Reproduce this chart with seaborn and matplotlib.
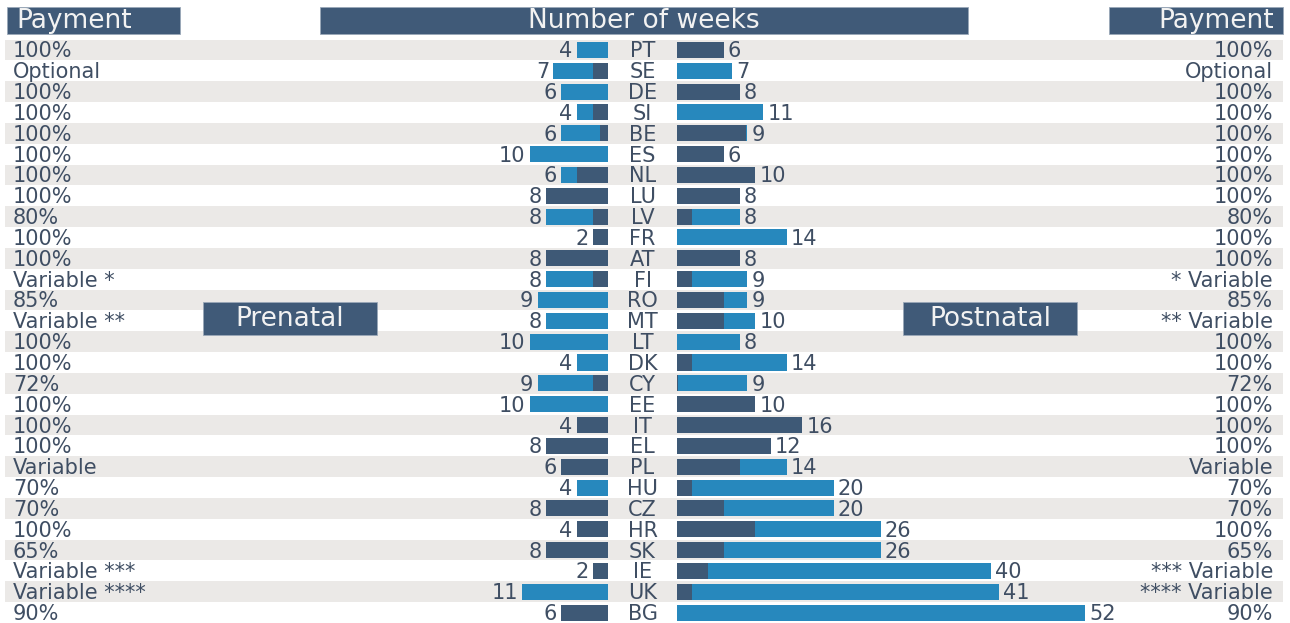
import numpy as np
import pandas as pd
import matplotlib.pyplot as plt
import seaborn as sns
from matplotlib.patches import Rectangle

# data
countries = ['PT', 'SE', 'DE', 'SI', 'BE', 'ES', 'NL', 'LU', 'LV', 'FR', 'AT', 'FI', 'RO', 'MT',
             'LT', 'DK', 'CY', 'EE', 'IT', 'EL', 'PL', 'HU', 'CZ', 'HR', 'SK', 'IE', 'UK', 'BG']
pre_total = [4, 7, 6, 4, 6, 10, 6, 8, 8, 2, 8, 8, 9, 8, 10, 4, 9, 10, 4, 8, 6, 4, 8, 4, 8, 2, 11, 6]
pre_dark = [0, 2, 0, 2, 1, 0, 4, 8, 2, 2, 8, 2, 0, 0, 0, 0, 2, 0, 4, 8, 6, 0, 8, 4, 8, 2, 0, 6]
post_total = [6, 7, 8, 11, 9, 6, 10, 8, 8, 14, 8, 9, 9, 10, 8, 14, 9, 10, 16, 12, 14, 20, 20, 26, 26, 40, 41, 52]
post_dark = [6, 0, 8, 0, 8.8, 6, 10, 8, 2, 0, 8, 2, 6, 6, 0, 2, 0.2, 10, 16, 12, 8, 2, 6, 10, 6, 4, 2, 0]
pay_left = ['100%', 'Optional', '100%', '100%', '100%', '100%', '100%', '100%', '80%', '100%',
            '100%', 'Variable *', '85%', 'Variable **', '100%', '100%', '72%', '100%', '100%',
            '100%', 'Variable', '70%', '70%', '100%', '65%', 'Variable ***', 'Variable ****', '90%']
pay_right = ['100%', 'Optional', '100%', '100%', '100%', '100%', '100%', '100%', '80%', '100%',
             '100%', '* Variable', '85%', '** Variable', '100%', '100%', '72%', '100%', '100%',
             '100%', 'Variable', '70%', '70%', '100%', '65%', '*** Variable', '**** Variable', '90%']

df = pd.DataFrame({'country': countries, 'pre_total': pre_total, 'pre_dark': pre_dark,
                   'post_total': post_total, 'post_dark': post_dark})

DARK = '#3e5976'
BLUE = '#2788bd'
HEAD = '#405a78'
STRIPE = '#ebe9e7'
TXT = '#3f4e63'

sns.set_style('white')
plt.rcParams['font.family'] = ['DejaVu Sans']

W, H = 1290, 623
fig = plt.figure(figsize=(W / 100, H / 100), dpi=100)


def px_axes(x0, x1, y0, y1):
    # axes from pixel box (y measured from top)
    return fig.add_axes([x0 / W, 1 - y1 / H, (x1 - x0) / W, (y1 - y0) / H])


n = len(countries)
top_px = 39.5
scale = 7.85  # px per week
fs = 15
base = 0.36  # baseline offset below row centre, in rows

# background rows: stripes, payment labels and country codes
bg = px_axes(0, W, top_px, H)
bg.set_xlim(0, W)
bg.set_ylim(n - 0.5, -0.5)
bg.axis('off')
for i in range(0, n, 2):
    bg.axhspan(i - 0.5, i + 0.5, xmin=5 / W, xmax=1283 / W, color=STRIPE, lw=0)
for i in range(n):
    bg.text(13, i + base, pay_left[i], ha='left', va='baseline', fontsize=fs, color=TXT)
    bg.text(1273, i + base, pay_right[i], ha='right', va='baseline', fontsize=fs, color=TXT)
    bg.text(642.5, i + base, countries[i], ha='center', va='baseline', fontsize=fs, color=TXT)

bar_kw = dict(orient='h', width=0.77, saturation=1, errorbar=None, linewidth=0)

# prenatal (bars grow to the left)
axL = px_axes(5, 608.3, top_px, H)
sns.barplot(data=df, y='country', x='pre_total', color=BLUE, ax=axL, **bar_kw)
sns.barplot(data=df, y='country', x='pre_dark', color=DARK, ax=axL, **bar_kw)
axL.set_xlim((608.3 - 5) / scale, 0)
for i, v in enumerate(pre_total):
    axL.annotate(str(v), (v, i + base), xytext=(-3, 0), textcoords='offset points',
                 ha='right', va='baseline', fontsize=fs, color=TXT)

# postnatal (bars grow to the right)
axR = px_axes(676.7, 1283, top_px, H)
sns.barplot(data=df, y='country', x='post_total', color=BLUE, ax=axR, **bar_kw)
sns.barplot(data=df, y='country', x='post_dark', color=DARK, ax=axR, **bar_kw)
axR.set_xlim(0, (1283 - 676.7) / scale)
for i, v in enumerate(post_total):
    axR.annotate(str(v), (v, i + base), xytext=(3, 0), textcoords='offset points',
                 ha='left', va='baseline', fontsize=fs, color=TXT)

for ax in (axL, axR):
    ax.set_ylim(n - 0.5, -0.5)
    ax.patch.set_alpha(0)
    ax.axis('off')

# header boxes
fr = px_axes(0, W, 0, H)
fr.set_xlim(0, W)
fr.set_ylim(H, 0)
fr.axis('off')
boxes = [(7, 180, 7, 34, 'Payment', 16, 'left'),
         (320, 968, 7, 34, 'Number of weeks', 644, 'center'),
         (1109, 1283, 7, 34, 'Payment', 1274, 'right'),
         (203, 377, 302, 335, 'Prenatal', 290, 'center'),
         (903, 1077, 302, 335, 'Postnatal', 990, 'center')]
for x0, x1, y0, y1, label, tx, ha in boxes:
    fr.add_patch(Rectangle((x0, y0), x1 - x0, y1 - y0, facecolor=HEAD, edgecolor='#9aa8b8', lw=0.6))
    fr.text(tx, (y0 + y1) / 2 + 1, label, ha=ha, va='center', fontsize=19, color='#f2f2f2')

fig.savefig('out.png', dpi=100)
